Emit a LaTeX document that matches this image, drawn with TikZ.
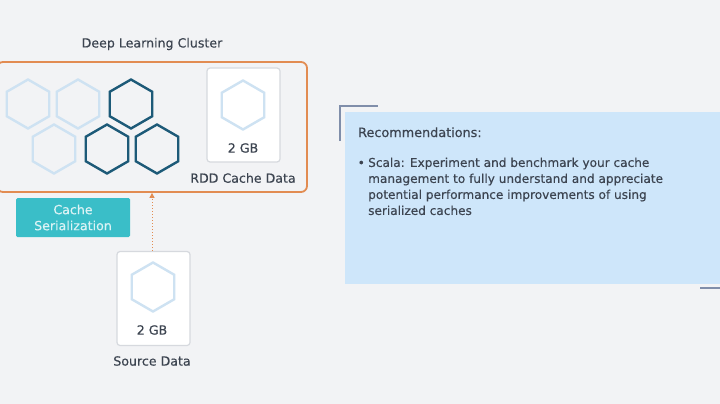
\documentclass[tikz,border=0pt]{standalone}
\usepackage{fontspec}
\setmainfont[FakeBold=0.35]{DejaVu Sans}
\usepackage{tikz}
\usetikzlibrary{shapes.geometric, arrows.meta, positioning, calc}
\definecolor{slidebg}{RGB}{242, 243, 245}
\definecolor{clusterorange}{RGB}{226, 140, 82}
\definecolor{hexdark}{RGB}{29, 90, 120}
\definecolor{hexlight}{RGB}{206, 226, 242}
\definecolor{cardgray}{RGB}{214, 217, 222}
\definecolor{serialteal}{RGB}{58, 190, 200}
\definecolor{panelblue}{RGB}{206, 230, 250}
\definecolor{accentslate}{RGB}{128, 142, 170}
\definecolor{bodytext}{RGB}{60, 68, 80}
\tikzset{
  hexcell/.style={regular polygon, regular polygon sides=6, shape border rotate=30,
    minimum size=49pt, inner sep=0pt, line width=2.4pt},
  darkhex/.style={hexcell, draw=hexdark},
  lighthex/.style={hexcell, draw=hexlight},
  datacard/.style={draw=cardgray, fill=white, rounded corners=3pt, line width=1.2pt,
    minimum width=73pt, minimum height=94pt, inner sep=0pt},
  caption/.style={font=\fontsize{12.6}{15}\selectfont, text=bodytext}
}

\begin{document}
\begin{tikzpicture}[x=1pt, y=-1pt]
  \useasboundingbox (0,0) rectangle (720,404);
  \fill[slidebg] (0,0) rectangle (720,404);

  % cluster
  \node[caption] (clustertitle) at (152,44) {Deep Learning Cluster};
  \node[draw=clusterorange, line width=1.8pt, rounded corners=6pt,
    minimum width=310pt, minimum height=130pt, inner sep=0pt] (cluster) at (152,127) {};

  \node[lighthex] (hexa) at (28,104) {};
  \node[lighthex] (hexb) at (78,104) {};
  \node[darkhex]  (hexc) at (131,104) {};
  \node[lighthex] (hexd) at (54,149) {};
  \node[darkhex]  (hexe) at (107,149) {};
  \node[darkhex]  (hexf) at (157,149) {};

  \node[datacard] (rddcard) at (243.5,115) {};
  \node[lighthex] (rddhex) at (243,105) {};
  \node[caption] (rddsize) at (243,148) {2 GB};
  \node[caption] (rddlabel) at (243,178) {RDD Cache Data};

  % serialization tag
  \node[fill=serialteal, rounded corners=1.5pt, minimum width=114pt, minimum height=39pt,
    align=center, font=\fontsize{12.6}{16}\selectfont, text=white!82!serialteal] (serial) at (73,217.5)
    {Cache\\Serialization};

  % source
  \node[datacard] (srccard) at (153.5,298.5) {};
  \node[lighthex] (srchex) at (153,287) {};
  \node[caption] (srcsize) at (152,330) {2 GB};
  \node[caption] (srclabel) at (152,361) {Source Data};

  \draw[clusterorange, line width=1pt, dotted, -{Triangle[length=5pt, width=5pt]}]
    (srccard.north -| 152,0) -- (cluster.south -| 152,0);

  % recommendations panel
  \node[fill=panelblue, minimum width=375pt, minimum height=172pt, inner sep=0pt] (panel) at (532.5,198) {};
  \coordinate (brackettop) at (378,106);
  \coordinate (bracketbot) at (340,141);
  \draw[accentslate, line width=1.5pt] (bracketbot) |- (brackettop);
  \coordinate (accentend) at (700,288);
  \draw[accentslate, line width=1.5pt] (accentend) -- (accentend -| panel.east);

  \node[caption, anchor=base west, inner sep=0pt, font=\fontsize{12.8}{15}\selectfont] (rectitle) at (358,137) {Recommendations:};
  \node[caption, anchor=base west, inner sep=0pt, font=\fontsize{12.1}{16}\selectfont] (bullet) at (357.5,167) {\textbullet};
  \node[caption, anchor=north west, inner sep=0pt, align=left,
    font=\fontsize{12.1}{16}\selectfont] (rectext) at (368,157.5)
    {Scala: Experiment and benchmark your cache\\
     management to fully understand and appreciate\\
     potential performance improvements of using\\
     serialized caches};
\end{tikzpicture}
\end{document}
